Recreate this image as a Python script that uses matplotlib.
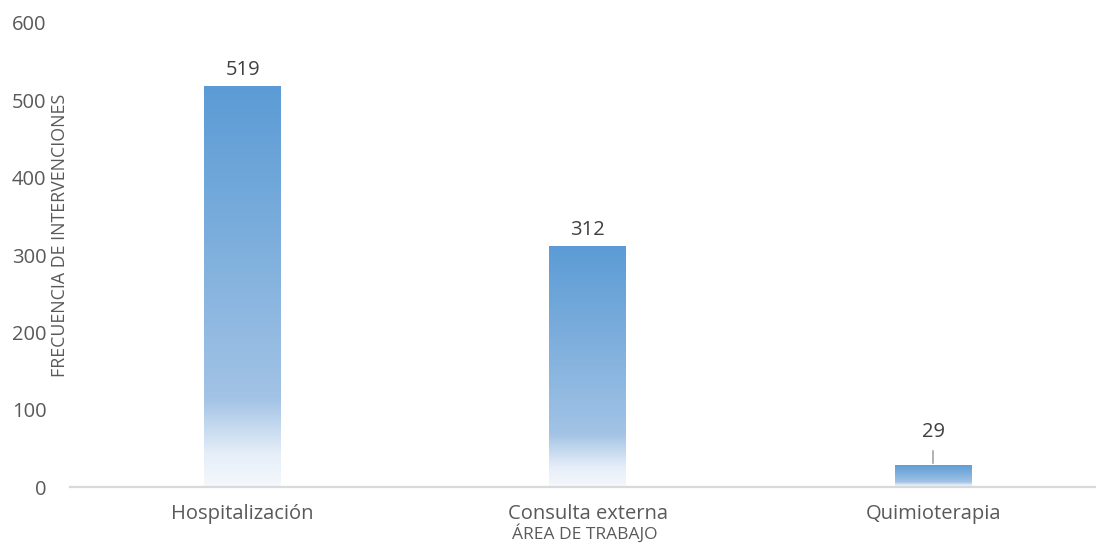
import matplotlib
matplotlib.use("Agg")
import matplotlib.pyplot as plt
import numpy as np
from matplotlib.colors import LinearSegmentedColormap

categories = ["Hospitalización", "Consulta externa", "Quimioterapia"]
values = [519, 312, 29]
y_ticks = [0, 100, 200, 300, 400, 500, 600]

plt.rcParams['font.family'] = ['Open Sans', 'DejaVu Sans']

fig = plt.figure(figsize=(10.96, 5.45), dpi=100)
ax = fig.add_axes([0.0639, 0.1064, 0.945, 0.8514])

# gradient: light at the bottom, office blue at the top
cmap = LinearSegmentedColormap.from_list("grad", [
    (0.0, "#f5f8fc"),
    (0.08, "#e6eef8"),
    (0.22, "#a2c3e5"),
    (0.6, "#7eafdd"),
    (1.0, "#5b9bd5"),
])
grad = np.linspace(0, 1, 256).reshape(-1, 1)

x = np.arange(len(categories))
bars = ax.bar(x, values, width=0.223, color="none", edgecolor="none", zorder=2)
for b, v in zip(bars, values):
    x0, w = b.get_x(), b.get_width()
    im = ax.imshow(grad, extent=(x0, x0 + w, 0, v), origin="lower",
                   aspect="auto", cmap=cmap, zorder=2)
    im.set_clip_path(b)

# data labels
for xi, v in zip(x, values):
    if v < 60:
        ax.text(xi, v + 42, str(v), ha="center", va="center",
                fontsize=14.5, color="#404040")
        ax.plot([xi, xi], [v + 2, v + 17], color="#a6a6a6", lw=1.2, zorder=3)
    else:
        ax.text(xi, v + 20, str(v), ha="center", va="center",
                fontsize=14.5, color="#404040")

ax.set_xlim(-0.5, 2.5)
ax.set_ylim(0, 600)
ax.set_yticks(y_ticks)
ax.set_xticks(x)
ax.set_xticklabels(categories)
ax.tick_params(axis="y", length=0, pad=17, labelsize=14.5, labelcolor="#595959")
ax.tick_params(axis="x", length=0, pad=12, labelsize=14.5, labelcolor="#595959")

for s in ["top", "right", "left"]:
    ax.spines[s].set_visible(False)
ax.spines["bottom"].set_color("#d9d9d9")
ax.spines["bottom"].set_linewidth(1.6)

fig.text(60 / 1096, 1 - 235 / 545, "FRECUENCIA DE INTERVENCIONES", rotation=90,
         ha="center", va="center", fontsize=12.8, color="#595959")
fig.text(585 / 1096, 1 - 534 / 545, "ÁREA DE TRABAJO",
         ha="center", va="center", fontsize=12.5, color="#595959")

fig.savefig("out.png", dpi=100)
